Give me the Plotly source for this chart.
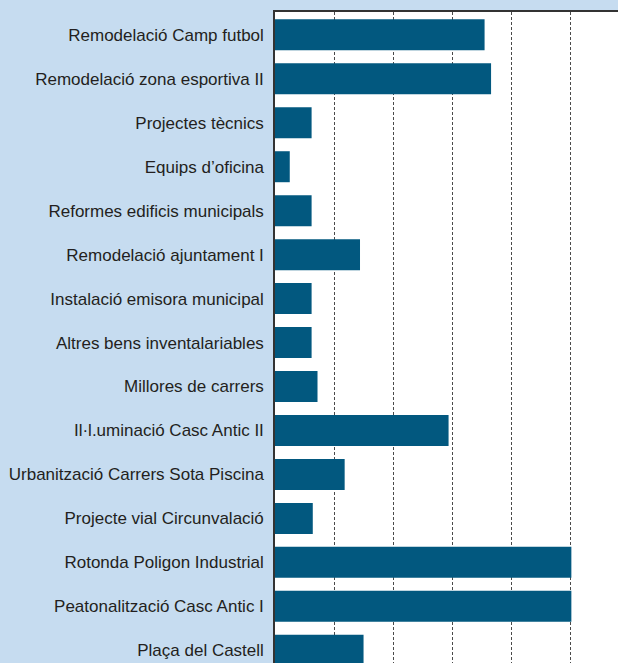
import plotly.graph_objects as go

categories = [
    "Remodelació Camp futbol",
    "Remodelació zona esportiva II",
    "Projectes tècnics",
    "Equips d’oficina",
    "Reformes edificis municipals",
    "Remodelació ajuntament I",
    "Instalació emisora municipal",
    "Altres bens inventalariables",
    "Millores de carrers",
    "Il·l.uminació Casc Antic II",
    "Urbanització Carrers Sota Piscina",
    "Projecte vial Circunvalació",
    "Rotonda Poligon Industrial",
    "Peatonalització Casc Antic I",
    "Plaça del Castell",
]
values = [355, 366, 62, 25, 62, 144, 62, 62, 72, 294, 118, 64, 502, 502, 150]

fig = go.Figure(
    go.Bar(
        x=values,
        y=categories,
        orientation="h",
        width=0.705,
        marker=dict(color="#02587f", line=dict(width=0)),
        hoverinfo="x+y",
    )
)

fig.update_layout(
    width=618,
    height=663,
    margin=dict(l=275, r=0, t=12, b=0, pad=0),
    paper_bgcolor="#c6dcf0",
    plot_bgcolor="#ffffff",
    showlegend=False,
    font=dict(family="Liberation Sans, Arial, sans-serif", size=17, color="#231f20"),
    xaxis=dict(
        range=[0, 581],
        side="top",
        dtick=100,
        tick0=0,
        showticklabels=False,
        showgrid=True,
        gridcolor="#4a4a4a",
        gridwidth=1,
        griddash="3px,2px",
        zeroline=False,
        showline=True,
        linecolor="#333333",
        linewidth=1.5,
        ticks="",
        fixedrange=True,
    ),
    yaxis=dict(
        type="category",
        categoryorder="array",
        categoryarray=categories,
        range=[14.29, -0.52],
        showgrid=False,
        zeroline=False,
        showline=True,
        linecolor="#333333",
        linewidth=1.5,
        ticks="",
        ticklabelstandoff=6,
        fixedrange=True,
    ),
)

fig.write_html(
    "out.html",
    config={"displayModeBar": False},
    post_script="document.body.style.margin='0';document.body.style.padding='0';document.body.style.overflow='hidden';",
)
